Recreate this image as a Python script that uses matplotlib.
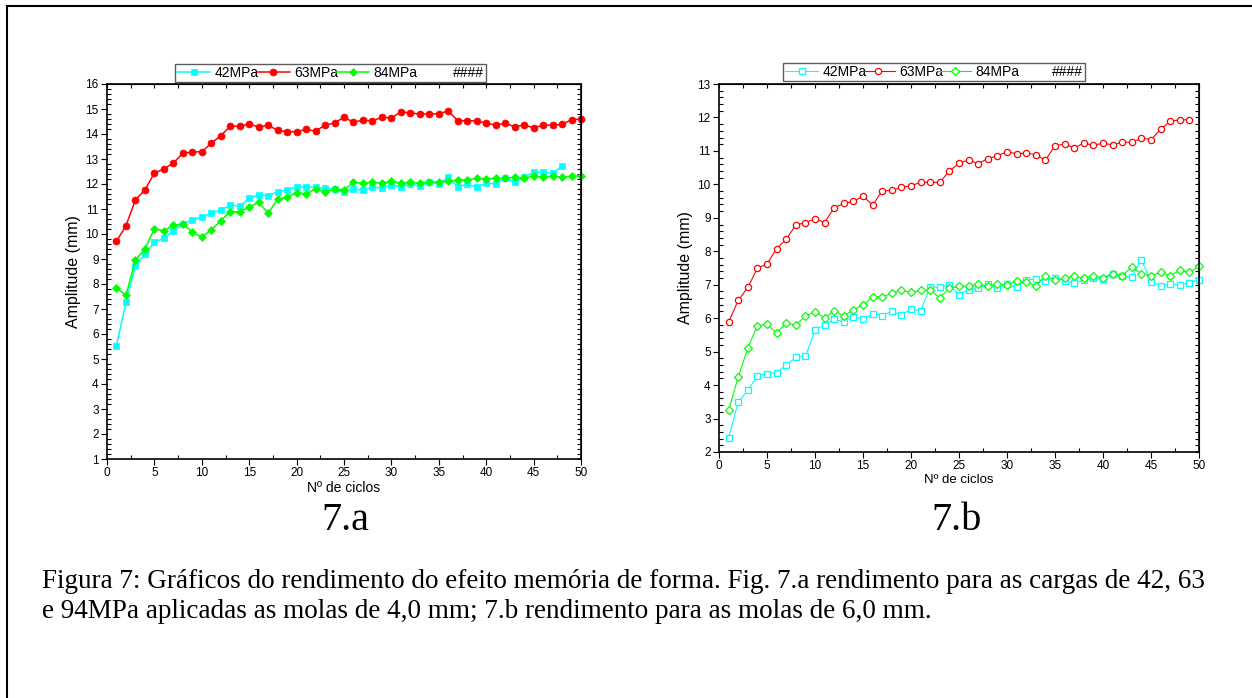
import numpy as np
import matplotlib.pyplot as plt
from matplotlib.lines import Line2D

# ---- data ----
ciclos_a_42 = list(range(1, 49))
amp_a_42 = [5.53, 7.27, 8.72, 9.20, 9.67, 9.83, 10.13, 10.41, 10.57, 10.68,
            10.83, 10.95, 11.17, 11.11, 11.43, 11.57, 11.53, 11.69, 11.76, 11.89,
            11.88, 11.87, 11.83, 11.80, 11.68, 11.80, 11.75, 11.88, 11.83, 11.97,
            11.88, 12.00, 11.91, 12.07, 12.01, 12.27, 11.88, 12.00, 11.87, 12.04,
            12.01, 12.23, 12.07, 12.27, 12.47, 12.47, 12.43, 12.71]
ciclos_a_63 = list(range(1, 51))
amp_a_63 = [9.71, 10.33, 11.37, 11.76, 12.44, 12.60, 12.84, 13.23, 13.28, 13.29,
            13.63, 13.93, 14.31, 14.31, 14.40, 14.28, 14.35, 14.15, 14.09, 14.09,
            14.19, 14.11, 14.36, 14.44, 14.67, 14.47, 14.56, 14.52, 14.67, 14.64,
            14.88, 14.84, 14.80, 14.80, 14.81, 14.92, 14.53, 14.53, 14.53, 14.43,
            14.36, 14.43, 14.29, 14.36, 14.25, 14.35, 14.35, 14.39, 14.57, 14.60]
ciclos_a_84 = list(range(1, 51))
amp_a_84 = [7.84, 7.55, 8.97, 9.40, 10.21, 10.13, 10.35, 10.41, 10.07, 9.88,
            10.16, 10.53, 10.89, 10.89, 11.07, 11.27, 10.83, 11.39, 11.47, 11.65,
            11.60, 11.80, 11.67, 11.80, 11.76, 12.07, 12.03, 12.07, 12.03, 12.11,
            12.03, 12.07, 12.03, 12.09, 12.07, 12.11, 12.16, 12.16, 12.23, 12.20,
            12.23, 12.23, 12.27, 12.23, 12.32, 12.27, 12.32, 12.27, 12.32, 12.32]

ciclos_b_42 = list(range(1, 51))
amp_b_42 = [2.43, 3.49, 3.84, 4.28, 4.34, 4.37, 4.61, 4.83, 4.86, 5.64,
            5.81, 5.97, 5.88, 6.05, 5.97, 6.13, 6.08, 6.20, 6.10, 6.27,
            6.22, 6.93, 6.92, 7.00, 6.70, 6.85, 6.89, 7.02, 6.89, 7.03,
            6.92, 7.15, 7.17, 7.12, 7.21, 7.12, 7.06, 7.13, 7.20, 7.16,
            7.31, 7.25, 7.24, 7.75, 7.08, 6.97, 7.02, 7.00, 7.06, 7.15]
ciclos_b_63 = list(range(1, 50))
amp_b_63 = [5.89, 6.53, 6.92, 7.49, 7.62, 8.08, 8.36, 8.78, 8.86, 8.97,
            8.86, 9.30, 9.43, 9.49, 9.65, 9.38, 9.81, 9.82, 9.91, 9.96,
            10.06, 10.06, 10.06, 10.40, 10.63, 10.73, 10.62, 10.77, 10.85, 10.98,
            10.91, 10.94, 10.89, 10.72, 11.16, 11.20, 11.09, 11.23, 11.17, 11.23,
            11.18, 11.26, 11.26, 11.38, 11.34, 11.64, 11.89, 11.93, 11.93]
ciclos_b_84 = list(range(1, 51))
amp_b_84 = [3.25, 4.24, 5.11, 5.78, 5.82, 5.56, 5.85, 5.80, 6.06, 6.19,
            6.01, 6.22, 6.07, 6.25, 6.39, 6.64, 6.64, 6.74, 6.83, 6.77,
            6.83, 6.83, 6.61, 6.90, 6.95, 6.95, 7.02, 6.96, 7.02, 6.99,
            7.10, 7.07, 6.97, 7.25, 7.15, 7.20, 7.25, 7.20, 7.27, 7.21,
            7.33, 7.27, 7.53, 7.33, 7.27, 7.37, 7.27, 7.43, 7.37, 7.55]

series_labels = ['42MPa', '63MPa', '84MPa']
series_colors = ['#00FFFF', '#FF0000', '#00FF00']
series_markers = ['s', 'o', 'D']

plt.rcParams['font.family'] = ['Liberation Sans', 'DejaVu Sans']

W, H = 1252, 698
fig = plt.figure(figsize=(W / 100, H / 100), dpi=100)


def px_rect(x0, y0, x1, y1):
    # pixel box (top-left origin) -> figure fraction rect
    return [x0 / W, 1 - y1 / H, (x1 - x0) / W, (y1 - y0) / H]


def style_axes(ax, ymin, ymax, xlab_size, ylab_size):
    ax.set_xlim(0, 50)
    ax.set_ylim(ymin, ymax)
    ax.set_xticks(np.arange(0, 51, 5))
    ax.set_xticks(np.arange(0, 51, 2.5), minor=True)
    ax.set_yticks(np.arange(ymin, ymax + 1, 1))
    ax.set_yticks(np.arange(ymin, ymax + 0.01, 0.2), minor=True)
    ax.tick_params(which='major', direction='out', length=4, width=0.8,
                   labelsize=8.5, pad=2)
    ax.tick_params(which='minor', direction='in', length=3, width=0.8)
    for s in ax.spines.values():
        s.set_linewidth(1.2)
    # ticks on top / right pointing inside, no labels
    top = ax.secondary_xaxis('top')
    top.set_xticks(np.arange(0, 51, 2.5))
    top.tick_params(direction='in', length=3, width=0.8, labeltop=False)
    right = ax.secondary_yaxis('right')
    right.set_yticks(np.arange(ymin, ymax + 0.01, 0.2))
    right.tick_params(direction='in', length=3, width=0.8, labelright=False)
    ax.set_xlabel('Nº de ciclos', fontsize=xlab_size, labelpad=1)
    ax.set_ylabel('Amplitude (mm)', fontsize=ylab_size, labelpad=3)


def add_legend(handles, box):
    blank = Line2D([], [], color='none')
    leg = fig.legend(handles + [blank], series_labels + ['####'],
                     loc='lower left', bbox_to_anchor=box, mode='expand',
                     ncol=4, fontsize=10, frameon=True, fancybox=False,
                     borderaxespad=0, borderpad=0.15, handlelength=2.4,
                     handletextpad=0.3, columnspacing=0.3)
    leg.get_frame().set_edgecolor('#333333')
    leg.get_frame().set_linewidth(1.0)
    return leg


# ---- 7.a (filled markers) ----
ax1 = fig.add_axes(px_rect(107, 84, 581, 459))
h1 = []
for xs, ys, c, m in zip([ciclos_a_42, ciclos_a_63, ciclos_a_84],
                        [amp_a_42, amp_a_63, amp_a_84],
                        series_colors, series_markers):
    ln, = ax1.plot(xs, ys, color=c, marker=m, markersize=5 if m != 'D' else 4.5,
                   lw=1.1, markeredgewidth=0.5, clip_on=False)
    h1.append(ln)
style_axes(ax1, 1, 16, 10, 11.5)
add_legend(h1, px_rect(175, 63, 486, 82))

# ---- 7.b (open markers) ----
ax2 = fig.add_axes(px_rect(719, 84, 1199, 452))
h2 = []
for xs, ys, c, m in zip([ciclos_b_42, ciclos_b_63, ciclos_b_84],
                        [amp_b_42, amp_b_63, amp_b_84],
                        series_colors, series_markers):
    ln, = ax2.plot(xs, ys, color=c, marker=m, markersize=4.5,
                   markerfacecolor='white', markeredgewidth=0.9,
                   lw=0.8, clip_on=False)
    h2.append(ln)
style_axes(ax2, 2, 13, 9.5, 11.5)
add_legend(h2, px_rect(783, 62, 1085, 81))

# ---- sub-figure labels and caption ----
serif = ['Liberation Serif', 'DejaVu Serif']
fig.text(345 / W, 1 - 520 / H, '7.a', family=serif, fontsize=29,
         ha='center', va='center')
fig.text(957 / W, 1 - 520 / H, '7.b', family=serif, fontsize=29,
         ha='center', va='center')
fig.text(42 / W, 1 - 582 / H,
         'Figura 7: Gráficos do rendimento do efeito memória de forma. '
         'Fig. 7.a rendimento para as cargas de 42, 63',
         family=serif, fontsize=19.5, ha='left', va='center')
fig.text(42 / W, 1 - 611 / H,
         'e 94MPa aplicadas as molas de 4,0 mm; 7.b rendimento para as '
         'molas de 6,0 mm.',
         family=serif, fontsize=19.5, ha='left', va='center')

# page frame (left and top edges)
fig.add_artist(Line2D([7 / W, 7 / W], [0, 1 - 6 / H], color='black', lw=1.5))
fig.add_artist(Line2D([7 / W, 1], [1 - 6 / H, 1 - 6 / H], color='black', lw=1.5))

fig.savefig('out.png', dpi=100)
